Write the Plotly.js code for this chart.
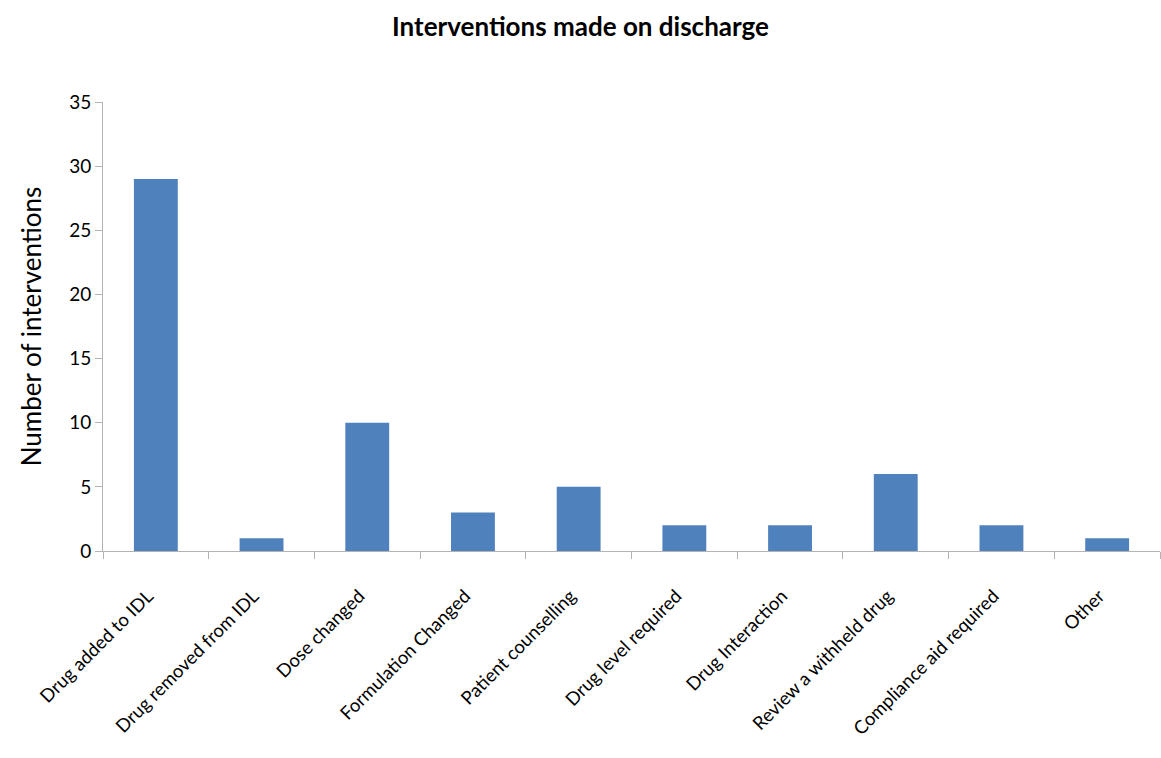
<!DOCTYPE html>
<html>
<head>
<meta charset="utf-8">
<script src="https://cdn.plot.ly/plotly-3.0.1.min.js"></script>
<style>html,body{margin:0;padding:0;background:#fff;}#chart{width:1161px;height:758px;}</style>
</head>
<body>
<div id="chart"></div>
<script>
const categories = ["Drug added to IDL","Drug removed from IDL","Dose changed","Formulation Changed","Patient counselling","Drug level required","Drug Interaction","Review a withheld drug","Compliance aid required","Other"];
const interventions = [29, 1, 10, 3, 5, 2, 2, 6, 2, 1];
const yTicks = [0, 5, 10, 15, 20, 25, 30, 35];

const font = "Lato, 'Open Sans', sans-serif";
Plotly.newPlot("chart", [{
  type: "bar",
  x: categories,
  y: interventions,
  marker: {color: "#4f81bd"},
  hoverinfo: "x+y"
}], {
  width: 1161, height: 758,
  margin: {l: 103, r: 1, t: 102, b: 207},
  paper_bgcolor: "#fff", plot_bgcolor: "#fff",
  bargap: 0.585,
  showlegend: false,
  title: {text: "<b>Interventions made on discharge</b>", x: 0.5, xref: "container", xanchor: "center", y: 0.965, yanchor: "middle", font: {family: font, size: 26, color: "#000"}},
  xaxis: {
    type: "category",
    tickangle: -45,
    tickson: "boundaries",
    ticks: "outside", ticklen: 7, tickcolor: "#b3b3b3",
    ticklabelstandoff: 26,
    ticklabelshift: -8,
    showline: true, linecolor: "#b3b3b3", linewidth: 1,
    showgrid: false,
    tickfont: {family: font, size: 18.5, color: "#000"}
  },
  yaxis: {
    range: [0, 35],
    tickvals: yTicks,
    ticks: "outside", ticklen: 7, tickcolor: "#b3b3b3",
    showline: true, linecolor: "#b3b3b3", linewidth: 1,
    showgrid: false, zeroline: false,
    tickfont: {family: font, size: 19, color: "#000"},
    title: {text: "Number of interventions", font: {family: font, size: 26, color: "#000"}, standoff: 20}
  }
}, {displayModeBar: false});
</script>
</body>
</html>
